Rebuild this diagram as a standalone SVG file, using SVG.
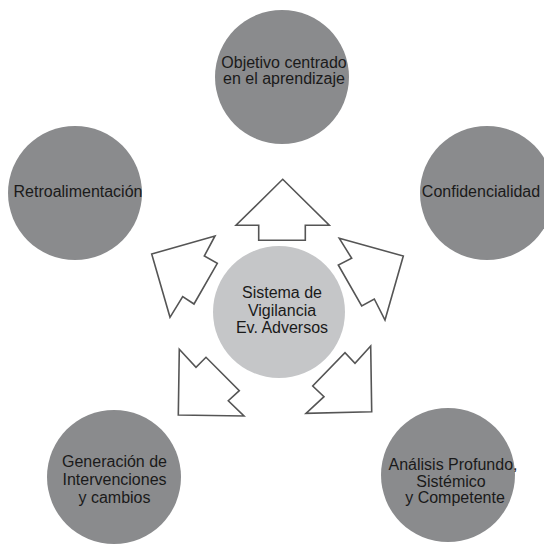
<svg xmlns="http://www.w3.org/2000/svg" width="544" height="550" viewBox="0 0 544 550">
<style>
.outer{fill:#8a8b8d}
.inner{fill:#c5c6c8}
.lbl{font-family:"Liberation Sans",Arial,sans-serif;font-size:16px;fill:#1a1a1a;text-anchor:middle}
.arrow{fill:#ffffff;stroke:#555555;stroke-width:1.6;stroke-linejoin:miter}
</style>
<rect x="0" y="0" width="544" height="550" fill="#ffffff"/>
<g id="connectors">
<polygon class="arrow" points="282.7,179.3 329.3,225.3 305.3,225.3 305.3,240.3 258.7,240.3 258.7,225.3 236,225.3"/>
<polygon class="arrow" points="339.3,238.3 403.3,256 385,320 374.3,299 361.7,306 338.3,265 351.7,258.3"/>
<polygon class="arrow" points="151.7,254 215,236 204.3,256 217.3,263.3 194,304 182.7,296.7 170,317.3"/>
<polygon class="arrow" points="179.3,349.3 196,367.3 206,357.3 239.3,390.7 228.3,400.7 244,416 178.3,415"/>
<polygon class="arrow" points="370.7,346 371.7,411.7 306,413.3 324,396.7 312.7,386 345,352.7 355,363.3"/>
</g>
<g id="node-center">
<circle class="inner" cx="279" cy="312" r="66"/>
<text class="lbl" x="282" y="298">Sistema de</text>
<text class="lbl" x="282" y="315.5">Vigilancia</text>
<text class="lbl" x="282" y="333">Ev. Adversos</text>
</g>
<g id="node-objetivo">
<circle class="outer" cx="282" cy="77" r="67"/>
<text class="lbl" x="284" y="68">Objetivo centrado</text>
<text class="lbl" x="284" y="83.5">en el aprendizaje</text>
</g>
<g id="node-retro">
<circle class="outer" cx="75" cy="193" r="67"/>
<text class="lbl" x="78" y="197">Retroalimentación</text>
</g>
<g id="node-confid">
<circle class="outer" cx="487" cy="193" r="67"/>
<text class="lbl" x="481" y="197">Confidencialidad</text>
</g>
<g id="node-generacion">
<circle class="outer" cx="114" cy="477" r="67"/>
<text class="lbl" x="114.5" y="467">Generación de</text>
<text class="lbl" x="114.5" y="485">Intervenciones</text>
<text class="lbl" x="114.5" y="503">y cambios</text>
</g>
<g id="node-analisis">
<circle class="outer" cx="448" cy="475" r="67"/>
<text class="lbl" x="453" y="470">Análisis Profundo,</text>
<text class="lbl" x="451" y="486.5">Sistémico</text>
<text class="lbl" x="455" y="503">y Competente</text>
</g>
</svg>
